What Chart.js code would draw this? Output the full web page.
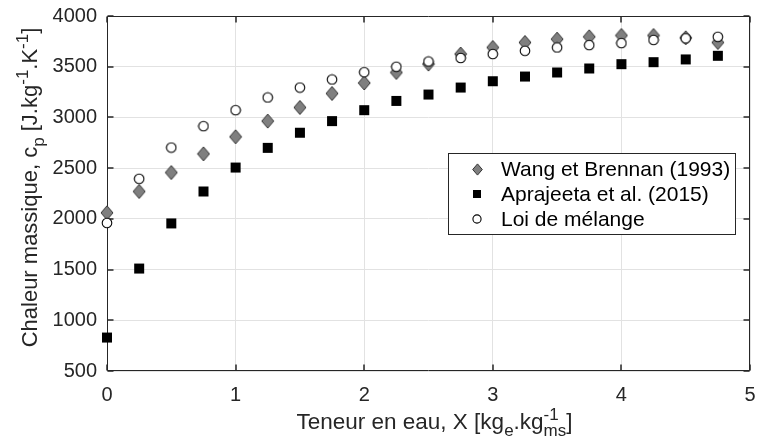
<!DOCTYPE html>
<html>
<head>
<meta charset="utf-8">
<script src="https://cdn.jsdelivr.net/npm/chart.js@4.4.1/dist/chart.umd.min.js"></script>
<style>
  html, body { margin: 0; padding: 0; background: #ffffff; }
  #wrap { position: relative; width: 758px; height: 443px; }
</style>
</head>
<body>
<div id="wrap"><canvas id="c" width="758" height="443"></canvas></div>
<script>
// ---- Data ----
const xValues = [0, 0.25, 0.5, 0.75, 1, 1.25, 1.5, 1.75, 2, 2.25, 2.5, 2.75, 3, 3.25, 3.5, 3.75, 4, 4.25, 4.5, 4.75];
const wangBrennan = [2060, 2270, 2457, 2641, 2809, 2964, 3098, 3236, 3340, 3443, 3526, 3625, 3690, 3739, 3772, 3795, 3808, 3808, 3785, 3739];
const aprajeeta = [830, 1510, 1955, 2270, 2506, 2700, 2849, 2964, 3072, 3163, 3226, 3295, 3357, 3403, 3443, 3483, 3525, 3545, 3572, 3608];
const loiMelange = [1960, 2395, 2703, 2914, 3072, 3197, 3295, 3374, 3446, 3500, 3552, 3586, 3625, 3657, 3690, 3713, 3733, 3764, 3780, 3795];
const seriesLabels = ['Wang et Brennan (1993)', 'Aprajeeta et al. (2015)', 'Loi de mélange'];
const xTicks = [0, 1, 2, 3, 4, 5];
const yTicks = [500, 1000, 1500, 2000, 2500, 3000, 3500, 4000];

const FONT = '"Liberation Sans", Arial, Helvetica, sans-serif';
const DARK = '#262626';

// ---- Marker images ----
function makeMarker(kind, scale) {
  const s = scale || 1;
  const c = document.createElement('canvas');
  let w, h;
  if (kind === 'diamond') { w = Math.round(14 * s); h = Math.round(16 * s); }
  else { w = Math.round(12 * s); h = Math.round(12 * s); }
  c.width = w; c.height = h;
  const g = c.getContext('2d');
  g.lineWidth = 1;
  if (kind === 'diamond') {
    const hw = 6 * s, hh = 7 * s, cx = w / 2, cy = h / 2;
    g.beginPath();
    g.moveTo(cx, cy - hh); g.lineTo(cx + hw, cy); g.lineTo(cx, cy + hh); g.lineTo(cx - hw, cy); g.closePath();
    g.fillStyle = '#7f7f7f'; g.fill();
    g.strokeStyle = '#333333'; g.stroke();
  } else if (kind === 'square') {
    const hs = 5 * s, cx = w / 2, cy = h / 2;
    g.fillStyle = '#000000';
    g.fillRect(cx - hs, cy - hs, 2 * hs, 2 * hs);
  } else {
    const r = 4.8 * s, cx = w / 2, cy = h / 2;
    g.beginPath(); g.arc(cx, cy, r, 0, Math.PI * 2);
    g.fillStyle = '#ffffff'; g.fill();
    g.strokeStyle = '#000000'; g.lineWidth = 1.1; g.stroke();
  }
  return c;
}
const mDiamond = makeMarker('diamond', 1);
const mSquare = makeMarker('square', 1);
const mCircle = makeMarker('circle', 1);
const lDiamond = makeMarker('diamond', 0.8);
const lSquare = makeMarker('square', 0.8);
const lCircle = makeMarker('circle', 0.85);

function pts(ys) { return xValues.map((x, i) => ({ x: x, y: ys[i] })); }

// ---- Plugin: box, inward ticks, legend, axis titles ----
const decor = {
  id: 'decor',
  beforeDatasetsDraw(chart) {
    const { ctx, chartArea: a, scales } = chart;
    ctx.save();
    ctx.strokeStyle = DARK;
    ctx.lineWidth = 1;
    const L = Math.round(a.left) + 0.5, R = Math.round(a.right) - 0.5;
    const T = Math.round(a.top) + 0.5, B = Math.round(a.bottom) - 0.5;
    ctx.beginPath();
    ctx.rect(L, T, R - L, B - T);
    ctx.stroke();
    ctx.lineWidth = 1.5;
    ctx.beginPath();
    xTicks.forEach(v => {
      const px = Math.round(scales.x.getPixelForValue(v));
      ctx.moveTo(px, B); ctx.lineTo(px, B - 6);
      ctx.moveTo(px, T); ctx.lineTo(px, T + 6);
    });
    yTicks.forEach(v => {
      const py = Math.round(scales.y.getPixelForValue(v));
      ctx.moveTo(L, py); ctx.lineTo(L + 6, py);
      ctx.moveTo(R, py); ctx.lineTo(R - 6, py);
    });
    ctx.stroke();
    ctx.restore();
  },
  afterDatasetsDraw(chart) {
    const { ctx } = chart;
    ctx.save();
    // legend
    const bx = 448.5, by = 153.5, bw = 287, bh = 81;
    ctx.fillStyle = '#ffffff';
    ctx.fillRect(bx, by, bw, bh);
    ctx.strokeStyle = DARK; ctx.lineWidth = 1;
    ctx.strokeRect(bx, by, bw, bh);
    const markers = [lDiamond, lSquare, lCircle];
    const rows = [169, 194, 219];
    ctx.font = '21px ' + FONT;
    ctx.fillStyle = '#000000';
    ctx.textBaseline = 'middle';
    ctx.textAlign = 'left';
    for (let i = 0; i < 3; i++) {
      const m = markers[i];
      ctx.drawImage(m, Math.round(477 - m.width / 2), Math.round(rows[i] - m.height / 2));
      ctx.fillText(seriesLabels[i], 501, rows[i] + 1);
    }
    // axis titles
    const a = chart.chartArea;
    drawRich(ctx, [
      { t: 'Teneur en eau, X [kg' },
      { t: 'e', sub: true },
      { t: '.kg' },
      { t: '-1', sup: true, stackWith: 'ms' },
      { t: ']' }
    ], (a.left + a.right) / 2 + 6, 429, 22.5);
    ctx.translate(37, (a.top + a.bottom) / 2 - 6);
    ctx.rotate(-Math.PI / 2);
    drawRich(ctx, [
      { t: 'Chaleur massique, c' },
      { t: 'p', sub: true },
      { t: ' [J.kg' },
      { t: '-1', sup: true },
      { t: '.K' },
      { t: '-1', sup: true },
      { t: ']' }
    ], 0, 0, 22);
    ctx.restore();
  }
};

function drawRich(ctx, segs, cx, baseY, size) {
  const main = size + 'px ' + FONT, small = Math.round(size * 0.75) + 'px ' + FONT;
  ctx.textBaseline = 'alphabetic';
  ctx.textAlign = 'left';
  ctx.fillStyle = DARK;
  let total = 0;
  const widths = segs.map(s => {
    ctx.font = (s.sub || s.sup) ? small : main;
    let w = ctx.measureText(s.t).width;
    if (s.stackWith) w = Math.max(w, ctx.measureText(s.stackWith).width);
    return w;
  });
  widths.forEach(w => total += w);
  let x = cx - total / 2;
  segs.forEach((s, i) => {
    ctx.font = (s.sub || s.sup) ? small : main;
    if (s.sup) {
      ctx.fillText(s.t, x, baseY - 9);
      if (s.stackWith) ctx.fillText(s.stackWith, x, baseY + 7);
    } else if (s.sub) {
      ctx.fillText(s.t, x, baseY + 7);
    } else {
      ctx.fillText(s.t, x, baseY);
    }
    x += widths[i];
  });
}

const chart = new Chart(document.getElementById('c'), {
  type: 'scatter',
  data: {
    datasets: [
      { label: seriesLabels[0], data: pts(wangBrennan), pointStyle: mDiamond, order: 2, clip: false },
      { label: seriesLabels[1], data: pts(aprajeeta), pointStyle: mSquare, order: 1, clip: false },
      { label: seriesLabels[2], data: pts(loiMelange), pointStyle: mCircle, order: 0, clip: false }
    ]
  },
  options: {
    responsive: false,
    animation: false,
    devicePixelRatio: 1,
    layout: { padding: { top: 16, right: 8, left: 0, bottom: 0 } },
    plugins: { legend: { display: false }, tooltip: { enabled: false } },
    scales: {
      x: {
        type: 'linear', min: 0, max: 5,
        afterFit(s) { s.height = 72; s.paddingLeft = 0; s.paddingRight = 0; },
        afterBuildTicks(s) { s.ticks = xTicks.map(v => ({ value: v })); },
        grid: { color: '#e2e2e2', drawTicks: false, lineWidth: 1 },
        border: { display: false },
        ticks: { padding: 12, color: DARK, font: { family: FONT, size: 20 }, callback: v => String(v) }
      },
      y: {
        type: 'linear', min: 500, max: 4000,
        afterFit(s) { s.width = 107; s.paddingTop = 0; s.paddingBottom = 0; },
        afterBuildTicks(s) { s.ticks = yTicks.map(v => ({ value: v })); },
        grid: { color: '#e2e2e2', drawTicks: false, lineWidth: 1 },
        border: { display: false },
        ticks: { padding: 10, color: DARK, font: { family: FONT, size: 20 }, callback: v => String(v) }
      }
    }
  },
  plugins: [decor]
});
</script>
</body>
</html>
